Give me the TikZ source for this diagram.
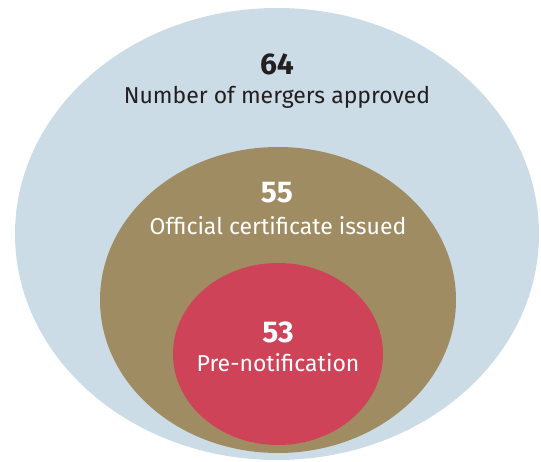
\documentclass[tikz,border=0pt]{standalone}
\usepackage{fontspec}
\setmainfont{Fira Sans}
\usetikzlibrary{shapes.geometric, positioning}
\definecolor{skyblue}{HTML}{CBDCE6}
\definecolor{sand}{HTML}{A08C62}
\definecolor{berry}{HTML}{CE4358}
\definecolor{ink}{HTML}{231F20}
\tikzstyle{set} = [ellipse, inner sep=0pt, draw=none]
\tikzstyle{count} = [font=\fontsize{30}{30}\selectfont\bfseries, inner sep=0pt]
\tikzstyle{caption} = [font=\fontsize{23}{23}\selectfont, inner sep=0pt]

\begin{document}
\begin{tikzpicture}[x=1pt,y=-1pt]
    \useasboundingbox (0,0) rectangle (541,462);
    % nested sets
    \node (outer) [set, fill=skyblue, minimum width=524pt, minimum height=452pt] at (277,234) {};
    \node (middle) [set, fill=sand, minimum width=356pt, minimum height=306pt] at (278,300) {};
    \node (inner) [set, fill=berry, minimum width=210pt, minimum height=182pt] at (278,354) {};

    % counts and captions
    \node (n64) [count, text=ink] at (277,64) {64};
    \node (l64) [caption, text=ink] at (277,97) {Number of mergers approved};
    \node (n55) [count, text=white] at (277,193) {55};
    \node (l55) [caption, text=white] at (278,226) {Official certificate issued};
    \node (n53) [count, text=white] at (278,332) {53};
    \node (l53) [caption, text=white] at (278,363) {Pre-notification};
\end{tikzpicture}
\end{document}
